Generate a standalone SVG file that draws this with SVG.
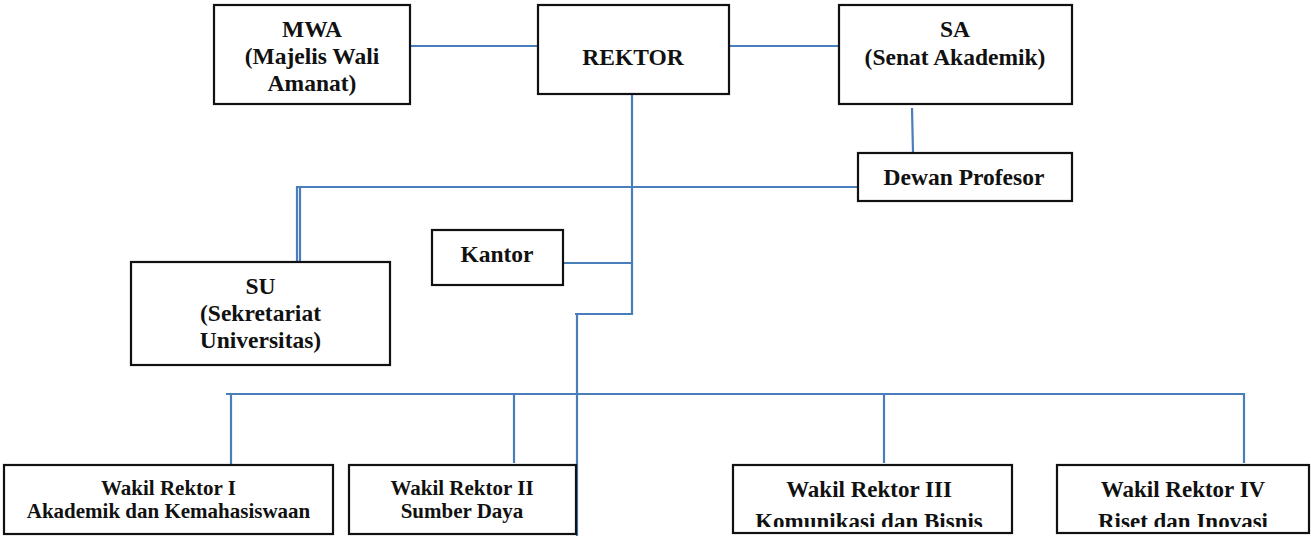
<svg xmlns="http://www.w3.org/2000/svg" width="1311" height="536" viewBox="0 0 1311 536">
  <style>
    .box { fill: #ffffff; stroke: #111111; stroke-width: 2.2; }
    .t { font-family: "Liberation Serif", "Times New Roman", serif; font-weight: bold; fill: #111111; text-anchor: middle; }
    .big { font-size: 23.5px; }
    .mid { font-size: 23px; }
    .small { font-size: 21px; }
    .con { fill: none; stroke: #4a7ebb; stroke-width: 2.2; }
  </style>
  <defs>
    <clipPath id="clip3"><rect x="733" y="465" width="279" height="62"/></clipPath>
    <clipPath id="clip4"><rect x="1057" y="465" width="252" height="62"/></clipPath>
  </defs>
  <rect width="1311" height="536" fill="#ffffff"/>

  <g id="connectors">
    <path class="con" d="M410 46 H538"/>
    <path class="con" d="M729 46 H839"/>
    <path class="con" d="M912 108 L913 153"/>
    <path class="con" d="M632 94 V314 H575"/>
    <path class="con" d="M577 314 V536"/>
    <path class="con" d="M563 263 H632"/>
    <path class="con" d="M857 187 H297 V262"/>
    <path class="con" d="M300 188 V262"/>
    <path class="con" d="M226 394 H1244"/>
    <path class="con" d="M231 394 V464"/>
    <path class="con" d="M514 394 V463"/>
    <path class="con" d="M884 394 V463"/>
    <path class="con" d="M1244 393 V463"/>
  </g>

  <g id="mwa">
    <rect class="box" x="214" y="5" width="196" height="99"/>
    <text class="t big" x="312" y="37">MWA</text>
    <text class="t big" x="312" y="64">(Majelis Wali</text>
    <text class="t big" x="312" y="91">Amanat)</text>
  </g>
  <g id="rektor">
    <rect class="box" x="538" y="5" width="191" height="89"/>
    <text class="t big" x="633" y="65">REKTOR</text>
  </g>
  <g id="sa">
    <rect class="box" x="839" y="5" width="233" height="99"/>
    <text class="t big" x="955" y="37">SA</text>
    <text class="t big" x="955" y="65">(Senat Akademik)</text>
  </g>
  <g id="dewan">
    <rect class="box" x="858" y="153" width="214" height="48"/>
    <text class="t big" x="964" y="185">Dewan Profesor</text>
  </g>
  <g id="kantor">
    <rect class="box" x="432" y="230" width="131" height="55"/>
    <text class="t big" x="497" y="262">Kantor</text>
  </g>
  <g id="su">
    <rect class="box" x="131" y="262" width="259" height="103"/>
    <text class="t big" x="260.5" y="294">SU</text>
    <text class="t big" x="260.5" y="321">(Sekretariat</text>
    <text class="t big" x="260.5" y="348">Universitas)</text>
  </g>
  <g id="wr1">
    <rect class="box" x="4" y="465" width="329" height="69"/>
    <text class="t small" x="168.5" y="495">Wakil Rektor I</text>
    <text class="t small" x="168.5" y="518">Akademik dan Kemahasiswaan</text>
  </g>
  <g id="wr2">
    <rect class="box" x="349" y="465" width="227" height="69"/>
    <text class="t small" x="462" y="495">Wakil Rektor II</text>
    <text class="t small" x="462" y="518">Sumber Daya</text>
  </g>
  <g id="wr3">
    <rect class="box" x="733" y="465" width="279" height="68"/>
    <g clip-path="url(#clip3)">
      <text class="t mid" x="869" y="497">Wakil Rektor III</text>
      <text class="t mid" x="869" y="529">Komunikasi dan Bisnis</text>
    </g>
  </g>
  <g id="wr4">
    <rect class="box" x="1057" y="465" width="252" height="68"/>
    <g clip-path="url(#clip4)">
      <text class="t mid" x="1183" y="497">Wakil Rektor IV</text>
      <text class="t mid" x="1183" y="529">Riset dan Inovasi</text>
    </g>
  </g>
</svg>
